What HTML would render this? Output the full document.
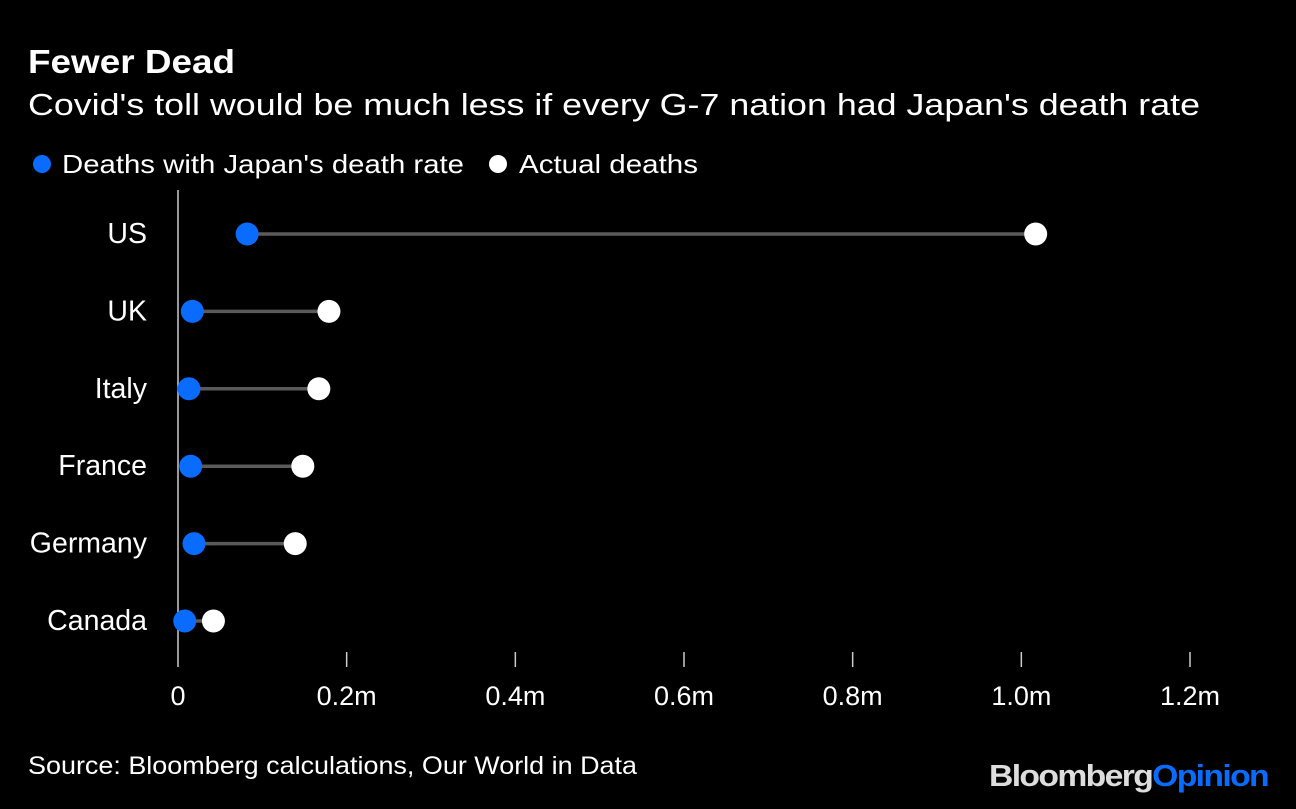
<!DOCTYPE html>
<html><head><meta charset="utf-8">
<style>
body{margin:0;background:#000;width:1296px;height:804px;overflow:hidden;font-family:"Liberation Sans",sans-serif;color:#fff}
</style></head>
<body>
<svg width="1296" height="804" xmlns="http://www.w3.org/2000/svg">
<text x="28" y="73" font-size="33" font-weight="bold" fill="#fff" textLength="207" lengthAdjust="spacingAndGlyphs">Fewer Dead</text>
<text x="28" y="115" font-size="31" fill="#fff" textLength="1172" lengthAdjust="spacingAndGlyphs">Covid's toll would be much less if every G-7 nation had Japan's death rate</text>
<g>
<circle cx="42" cy="164" r="9" fill="#0a6cff"/>
<text x="62" y="173" font-size="26" fill="#fff" textLength="402" lengthAdjust="spacingAndGlyphs">Deaths with Japan's death rate</text>
<circle cx="498" cy="164" r="9" fill="#fff"/>
<text x="519" y="173" font-size="26" fill="#fff" textLength="179" lengthAdjust="spacingAndGlyphs">Actual deaths</text>
</g>
<g id="plot"></g>
<text x="28" y="774" font-size="25" fill="#fff" textLength="609" lengthAdjust="spacingAndGlyphs">Source: Bloomberg calculations, Our World in Data</text>
<text x="989" y="786" font-size="31" font-weight="bold" letter-spacing="-1.5" textLength="279" lengthAdjust="spacingAndGlyphs"><tspan fill="#ddd">Bloomberg</tspan><tspan fill="#0a6cff">Opinion</tspan></text>
</svg>
<script>
const countries=["US","UK","Italy","France","Germany","Canada"];
const japanRate=[0.082,0.017,0.013,0.015,0.019,0.008];
const actual=[1.017,0.179,0.167,0.148,0.139,0.042];
const ticks=[0,0.2,0.4,0.6,0.8,1.0,1.2];
const tickLabels=["0","0.2m","0.4m","0.6m","0.8m","1.0m","1.2m"];
const NS="http://www.w3.org/2000/svg";
const g=document.getElementById('plot');
const x=v=>178+v*(1190-178)/1.2;
const y=i=>234+i*77.4;
function mk(t,a){const e=document.createElementNS(NS,t);for(const k in a)e.setAttribute(k,a[k]);g.appendChild(e);return e;}
let ax=mk('line',{x1:178,x2:178,y1:190,y2:667,stroke:'#ccc','stroke-width':1.5});


ticks.forEach((t,i)=>{
  if(i>0){const l=mk('line',{x1:x(t),x2:x(t),y1:652,y2:667,stroke:'#ccc','stroke-width':1.5});
  
  }
  const tx=mk('text',{x:x(t),y:705,'font-size':27,fill:'#fff','text-anchor':'middle'});
  tx.textContent=tickLabels[i];
  
  
});
countries.forEach((c,i)=>{
  const lb=mk('text',{x:147,y:y(i)+9,'font-size':28.5,fill:'#fff','text-anchor':'end'});
  lb.textContent=c;
  
  
  const ln=mk('line',{x1:x(japanRate[i]),x2:x(actual[i]),y1:y(i),y2:y(i),stroke:'#5a5a5a','stroke-width':3.5});
  
  
  const b=mk('circle',{cx:x(japanRate[i]),cy:y(i),r:11.5,fill:'#0a6cff'});
  
  
  const w=mk('circle',{cx:x(actual[i]),cy:y(i),r:11.5,fill:'#fff'});
  
  
});
</script>
</body></html>
